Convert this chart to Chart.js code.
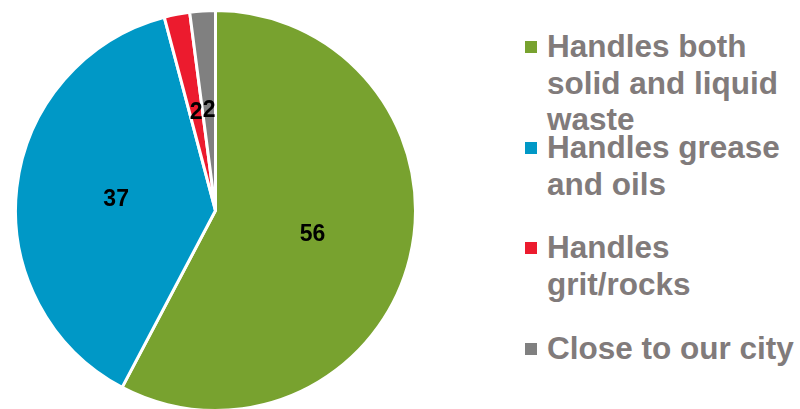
<!DOCTYPE html>
<html>
<head>
<meta charset="utf-8">
<script src="https://cdn.jsdelivr.net/npm/chart.js@4/dist/chart.umd.min.js"></script>
<style>
  html, body { margin: 0; padding: 0; background: #fff; overflow: hidden; }
  body { width: 800px; height: 409px; position: relative; font-family: "Liberation Sans", Arial, sans-serif; }
  #pieBox { position: absolute; left: 14px; top: 9px; width: 403px; height: 403px; }
  #legend { position: absolute; left: 0; top: 0; }
  .legend-item { position: absolute; left: 547px; font-weight: bold; font-size: 31.5px; line-height: 36.5px; color: #817b7b; white-space: nowrap; }
  .legend-color { position: absolute; left: -22px; top: 13px; width: 12px; height: 12px; }
</style>
</head>
<body>
<div id="pieBox"><canvas id="pieChart"></canvas></div>
<div id="legend"></div>
<script>
const labels = ['Handles both solid and liquid waste', 'Handles grease and oils', 'Handles grit/rocks', 'Close to our city'];
const legendLines = [
  ['Handles both', 'solid and liquid', 'waste'],
  ['Handles grease', 'and oils'],
  ['Handles', 'grit/rocks'],
  ['Close to our city']
];
const values = [56, 37, 2, 2];
const colors = ['#78a22f', '#0098c6', '#ec1b2e', '#808080'];
const legendTops = [28, 129, 229, 330];

// --- Slice value labels ---
const sliceLabels = {
  id: 'sliceLabels',
  afterDatasetsDraw(chart) {
    const ctx = chart.ctx;
    const meta = chart.getDatasetMeta(0);
    ctx.save();
    ctx.font = 'bold 23px "Liberation Sans", Arial, sans-serif';
    ctx.fillStyle = '#000';
    ctx.textAlign = 'center';
    ctx.textBaseline = 'middle';
    meta.data.forEach((arc, i) => {
      const p = arc.getProps(['x', 'y', 'startAngle', 'endAngle', 'outerRadius'], true);
      const mid = (p.startAngle + p.endAngle) / 2;
      const r = p.outerRadius * 0.5;
      ctx.fillText(String(values[i]), p.x + Math.cos(mid) * r, p.y + Math.sin(mid) * r);
    });
    ctx.restore();
  }
};

new Chart(document.getElementById('pieChart'), {
  type: 'pie',
  data: {
    labels: labels,
    datasets: [{
      data: values,
      backgroundColor: colors,
      borderColor: '#ffffff',
      borderWidth: 3
    }]
  },
  options: {
    responsive: true,
    maintainAspectRatio: false,
    animation: false,
    plugins: {
      legend: { display: false },
      tooltip: { enabled: false }
    }
  },
  plugins: [sliceLabels]
});

// Legend
const legend = document.getElementById('legend');
legendLines.forEach((lines, i) => {
  const item = document.createElement('div');
  item.className = 'legend-item';
  item.style.top = legendTops[i] + 'px';
  item.innerHTML = `<span class="legend-color" style="background-color: ${colors[i]}"></span>` + lines.join('<br>');
  legend.appendChild(item);
});
</script>
</body>
</html>
